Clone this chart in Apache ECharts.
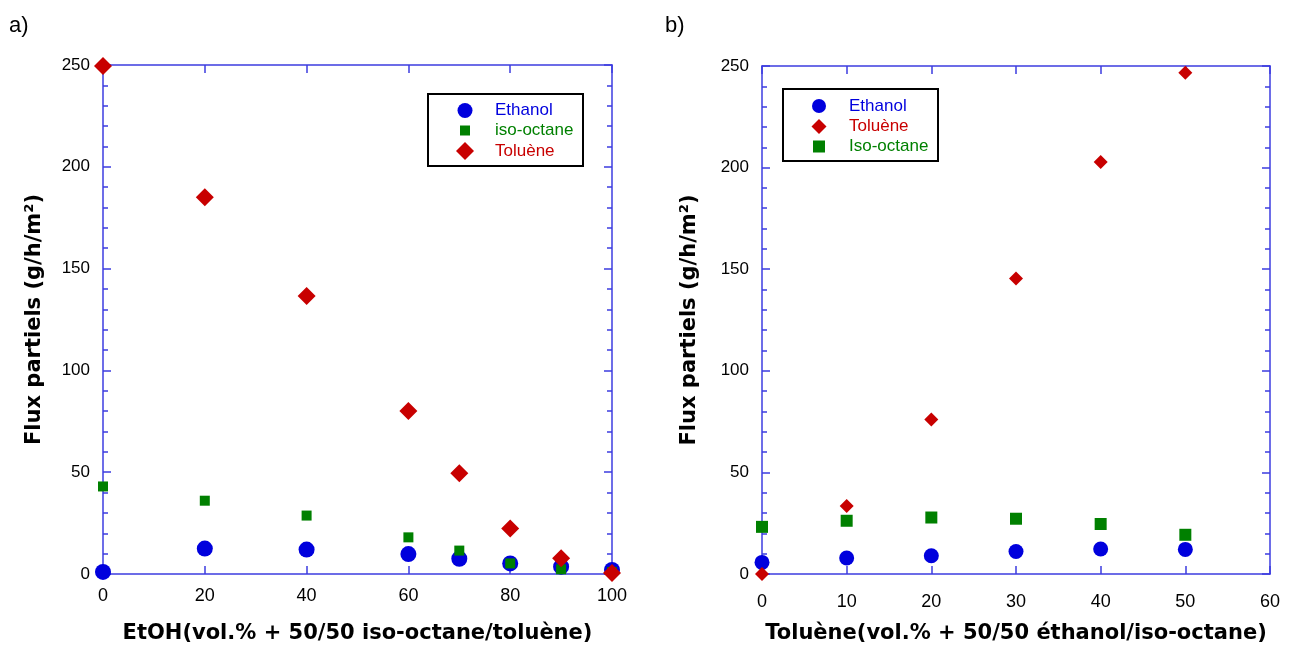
<!DOCTYPE html>
<html>
<head>
<meta charset="utf-8">
<script src="https://cdn.jsdelivr.net/npm/echarts@6/dist/echarts.min.js"></script>
<style>
html,body{margin:0;padding:0;background:#fff;}
#c{width:1296px;height:649px;}
</style>
</head>
<body>
<div id="c"></div>
<script>
// ---- data (panel a) ----
const xA = [0, 20, 40, 60, 70, 80, 90, 100];
const ethanolA = [1, 12.5, 12, 9.8, 7.5, 5.2, 3.6, 2];
const isoOctaneA = [43, 36, 28.7, 18, 11.5, 5.2, 2.3, 1];
const tolueneA = [249.5, 185, 136.5, 80, 49.5, 22.4, 7.7, 0.5];
// ---- data (panel b) ----
const xB = [0, 10, 20, 30, 40, 50];
const ethanolB = [5.7, 7.9, 9, 11.1, 12.3, 12.1];
const tolueneB = [0, 33.5, 76, 145.4, 202.8, 246.7];
const isoOctaneB = [23.2, 26.2, 27.8, 27.2, 24.6, 19.3];
// ---- labels ----
const panelTitles = ['a)', 'b)'];
const xNames = ['EtOH(vol.% + 50/50 iso-octane/toluène)', 'Toluène(vol.% + 50/50 éthanol/iso-octane)'];
const yName = 'Flux partiels (g/h/m²)';
const legendA = ['Ethanol', 'iso-octane', 'Toluène'];
const legendB = ['Ethanol', 'Toluène', 'Iso-octane'];

const BLUE = '#0000dd', GREEN = '#008000', RED = '#c80000';
const AXIS = '#3c3ce0';
const FONT = "'Liberation Sans', Arial, sans-serif";
const BOLD_FONT = "'DejaVu Sans', Verdana, sans-serif";

function pairs(xs, ys) { return xs.map((x, i) => [x, ys[i]]); }

function xAxisPair(gridIndex, max, interval, name, labelMargin) {
  const base = {
    gridIndex, type: 'value', min: 0, max, interval,
    axisLine: { show: true, onZero: false, lineStyle: { color: AXIS, width: 1.5 } },
    axisTick: { show: true, inside: true, length: 8, lineStyle: { color: AXIS, width: 1.5 } },
    splitLine: { show: false }
  };
  return [
    Object.assign({}, base, {
      position: 'bottom',
      axisLabel: { show: true, color: '#000', fontSize: 18, fontFamily: FONT, margin: labelMargin },
      name, nameLocation: 'middle', nameGap: 49,
      nameTextStyle: { color: '#000', fontSize: 21, fontWeight: 'bold', fontFamily: BOLD_FONT }
    }),
    Object.assign({}, base, { position: 'top', axisLabel: { show: false } })
  ];
}
function yAxisPair(gridIndex, nameGap) {
  const base = {
    gridIndex, type: 'value', min: 0, max: 250, interval: 50,
    axisLine: { show: true, onZero: false, lineStyle: { color: AXIS, width: 1.5 } },
    axisTick: { show: true, inside: true, length: 8, lineStyle: { color: AXIS, width: 1.5 } },
    minorTick: { show: true, splitNumber: 5, length: 5, lineStyle: { color: AXIS, width: 1.5 } },
    splitLine: { show: false }, minorSplitLine: { show: false }
  };
  return [
    Object.assign({}, base, {
      position: 'left',
      axisLabel: { show: true, color: '#000', fontSize: 17, fontFamily: FONT, margin: 13 },
      name: yName, nameLocation: 'middle', nameGap,
      nameTextStyle: { color: '#000', fontSize: 21, fontWeight: 'bold', fontFamily: BOLD_FONT }
    }),
    Object.assign({}, base, { position: 'right', axisLabel: { show: false } })
  ];
}

// legend entry: icon centred at cx, text starting at textX
function legendItem(name, cx, textX, centerY, size, color) {
  const left = cx - size / 2;
  const pad = textX - (cx + size / 2 + 5);
  return {
    data: [name], orient: 'vertical', left, top: centerY - 10, padding: 0,
    itemWidth: size, itemHeight: size,
    textStyle: { fontSize: 17, fontFamily: FONT, lineHeight: 20, color, padding: [0, 0, 0, pad] },
    selectedMode: false
  };
}

const xa = xAxisPair(0, 100, 20, xNames[0], 13);
const xb = xAxisPair(1, 60, 10, xNames[1], 19);
const ya = yAxisPair(0, 58);
const yb = yAxisPair(1, 62);

const option = {
  animation: false,
  backgroundColor: '#fff',
  title: [
    { text: panelTitles[0], left: 4, top: 10, textStyle: { fontSize: 22, fontWeight: 'normal', color: '#000', fontFamily: FONT } },
    { text: panelTitles[1], left: 660, top: 10, textStyle: { fontSize: 22, fontWeight: 'normal', color: '#000', fontFamily: FONT } }
  ],
  grid: [
    { left: 103, top: 65, width: 509, height: 509 },
    { left: 762, top: 66, width: 508, height: 509 }
  ],
  xAxis: [xa[0], xa[1], xb[0], xb[1]].map((a, i) => Object.assign(a, { gridIndex: i < 2 ? 0 : 1 })),
  yAxis: [ya[0], ya[1], yb[0], yb[1]].map((a, i) => Object.assign(a, { gridIndex: i < 2 ? 0 : 1 })),
  legend: [
    legendItem(legendA[0], 465, 495, 110.5, 15, BLUE),
    legendItem(legendA[1], 465, 495, 130.5, 10, GREEN),
    legendItem(legendA[2], 465, 495, 151, 18, RED),
    legendItem(legendB[0], 819, 849, 106, 14, BLUE),
    legendItem(legendB[1], 819, 849, 126.5, 15, RED),
    legendItem(legendB[2], 819, 849, 146.5, 12, GREEN)
  ],
  graphic: [
    { type: 'rect', shape: { x: 428, y: 94, width: 155, height: 72 }, style: { fill: 'none', stroke: '#000', lineWidth: 2 }, z: 1 },
    { type: 'rect', shape: { x: 783, y: 89, width: 155, height: 72 }, style: { fill: 'none', stroke: '#000', lineWidth: 2 }, z: 1 }
  ],
  series: [
    { name: legendA[0], type: 'scatter', xAxisIndex: 0, yAxisIndex: 0, data: pairs(xA, ethanolA), symbol: 'circle', symbolSize: 16, itemStyle: { color: BLUE, opacity: 1 } },
    { name: legendA[1], type: 'scatter', xAxisIndex: 0, yAxisIndex: 0, data: pairs(xA, isoOctaneA), symbol: 'rect', symbolSize: 10, itemStyle: { color: GREEN, opacity: 1 } },
    { name: legendA[2], type: 'scatter', xAxisIndex: 0, yAxisIndex: 0, data: pairs(xA, tolueneA), symbol: 'diamond', symbolSize: 18, itemStyle: { color: RED, opacity: 1 } },
    { name: legendB[0], type: 'scatter', xAxisIndex: 2, yAxisIndex: 2, data: pairs(xB, ethanolB), symbol: 'circle', symbolSize: 15, itemStyle: { color: BLUE, opacity: 1 } },
    { name: legendB[1], type: 'scatter', xAxisIndex: 2, yAxisIndex: 2, data: pairs(xB, tolueneB), symbol: 'diamond', symbolSize: 14, itemStyle: { color: RED, opacity: 1 } },
    { name: legendB[2], type: 'scatter', xAxisIndex: 2, yAxisIndex: 2, data: pairs(xB, isoOctaneB), symbol: 'rect', symbolSize: 12, itemStyle: { color: GREEN, opacity: 1 } }
  ]
};

const chart = echarts.init(document.getElementById('c'), null, { renderer: 'canvas' });
chart.setOption(option);
</script>
</body>
</html>
